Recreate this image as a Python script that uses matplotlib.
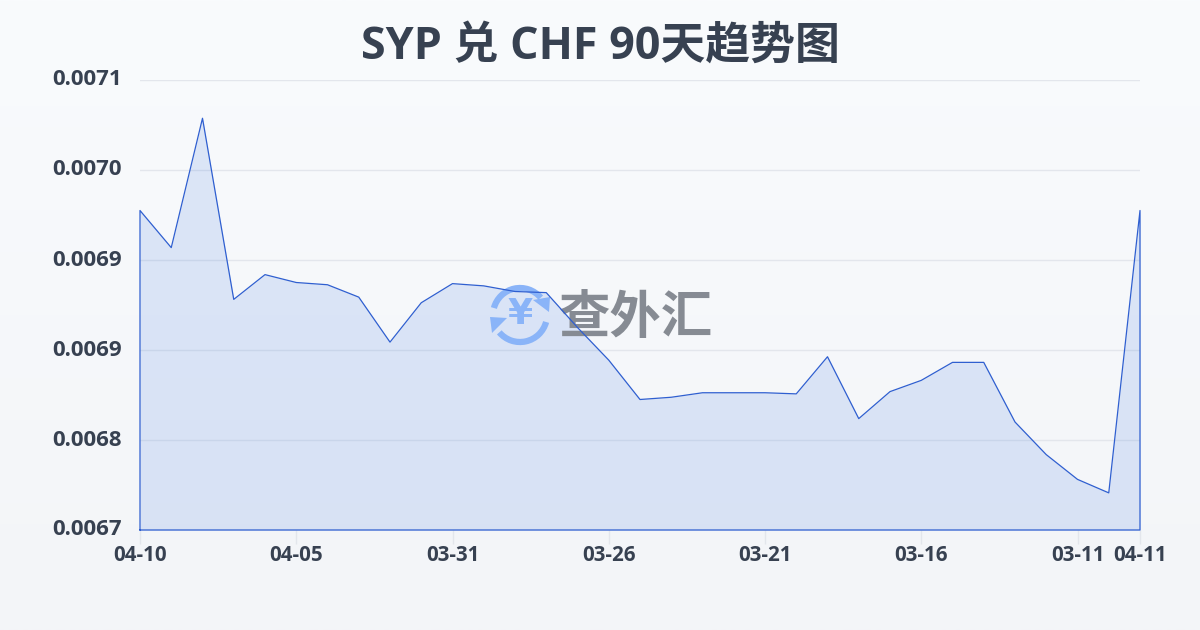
import numpy as np
import matplotlib
matplotlib.use('Agg')
import matplotlib.pyplot as plt
from matplotlib.patches import Arc, Polygon

plt.rcParams['font.family'] = ['Open Sans', 'Noto Sans CJK SC', 'DejaVu Sans']

title = 'SYP 兑 CHF 90天趋势图'
watermark = '查外汇'
values = [0.006984, 0.006951, 0.007066, 0.006905, 0.006927, 0.006920, 0.006918,
          0.006907, 0.006867, 0.006902, 0.006919, 0.006917, 0.006912, 0.006911,
          0.006880, 0.006851, 0.006816, 0.006818, 0.006822, 0.006822, 0.006822,
          0.006821, 0.006854, 0.006799, 0.006823, 0.006833, 0.006849, 0.006849,
          0.006796, 0.006767, 0.006745, 0.006733, 0.006984]
x_tick_pos = [0, 5, 10, 15, 20, 25, 30, 32]
x_tick_labels = ['04-10', '04-05', '03-31', '03-26', '03-21', '03-16', '03-11', '04-11']
y_ticks = [0.0067, 0.00678, 0.00686, 0.00694, 0.00702, 0.0071]
y_tick_labels = ['0.0067', '0.0068', '0.0069', '0.0069', '0.0070', '0.0071']

W, H = 1200, 630
fig = plt.figure(figsize=(W / 100, H / 100), dpi=100)
rect = [140 / W, 1 - 530 / H, 1000 / W, 450 / H]

# page background gradient
bg = fig.add_axes([0, 0, 1, 1], zorder=0)
bg.axis('off')
grad = np.linspace(0, 1, 256).reshape(-1, 1)
c0, c1 = np.array([0xf9, 0xfb, 0xfd]) / 255, np.array([0xf3, 0xf5, 0xf8]) / 255
bg.imshow((c0 + (c1 - c0) * grad[..., None]).reshape(256, 1, 3), aspect='auto', extent=[0, 1, 0, 1])

# chart: grid, ticks, area
ax = fig.add_axes(rect, zorder=1)
ax.patch.set_alpha(0)
x = np.arange(len(values))
ax.set_yticks(y_ticks)
ax.set_yticklabels(y_tick_labels)
ax.set_xticks(x_tick_pos)
ax.set_xticklabels(x_tick_labels)
ax.grid(axis='y', color='#e3e6ec', lw=1)
ax.set_axisbelow(True)
for s in ax.spines.values():
    s.set_visible(False)
ax.tick_params(axis='y', length=0, pad=13, labelsize=16, labelcolor='#374151')
ax.tick_params(axis='x', length=10, width=1, color='#e3e6ec', pad=1, labelsize=14.8, labelcolor='#374151')
for lab in ax.get_yticklabels():
    lab.set_fontweight('bold')
    lab.set_verticalalignment('center')
for lab in ax.get_xticklabels():
    lab.set_fontweight('bold')

ax.fill_between(x, values, 0.0067, color='#3b74e0', alpha=0.15, lw=0, zorder=2)
ax.set_xlim(0, 32)
ax.set_ylim(0.0067, 0.0071)

# watermark, in pixel coordinates
wm = fig.add_axes([0, 0, 1, 1], zorder=2)
wm.set_xlim(0, W)
wm.set_ylim(H, 0)
wm.axis('off')
blue = '#8ab4f8'
cx, cy, r = 520, 315, 27
for a, b in [(-165, -40), (15, 140)]:
    wm.add_patch(Arc((cx, cy), 2 * r, 2 * r, theta1=a, theta2=b, color=blue, lw=4.5))
wm.add_patch(Polygon([[533, 300], [550, 297], [549, 312]], closed=True, color=blue, lw=0))
wm.add_patch(Polygon([[490, 317], [507, 318], [492, 333]], closed=True, color=blue, lw=0))
wm.text(cx, cy - 1, '¥', ha='center', va='center', fontsize=26, fontweight='bold', color=blue,
        family='DejaVu Sans')
wm.text(636, 320, watermark, ha='center', va='center', fontsize=37, fontweight='bold', color='#868b93')

# line on top
top = fig.add_axes(rect, zorder=3)
top.patch.set_alpha(0)
top.axis('off')
top.set_xlim(0, 32)
top.set_ylim(0.0067, 0.0071)
line_x = np.r_[0, x, 32, 0]
line_y = np.r_[0.0067, values, 0.0067, 0.0067]
top.plot(line_x, line_y, color='#2f5fd0', lw=0.9, clip_on=False)

fig.text(600 / W, 1 - 47 / H, title, ha='center', va='center', fontsize=32.3,
         fontweight='bold', color='#374151', zorder=5)

fig.savefig('out.png', dpi=100)
